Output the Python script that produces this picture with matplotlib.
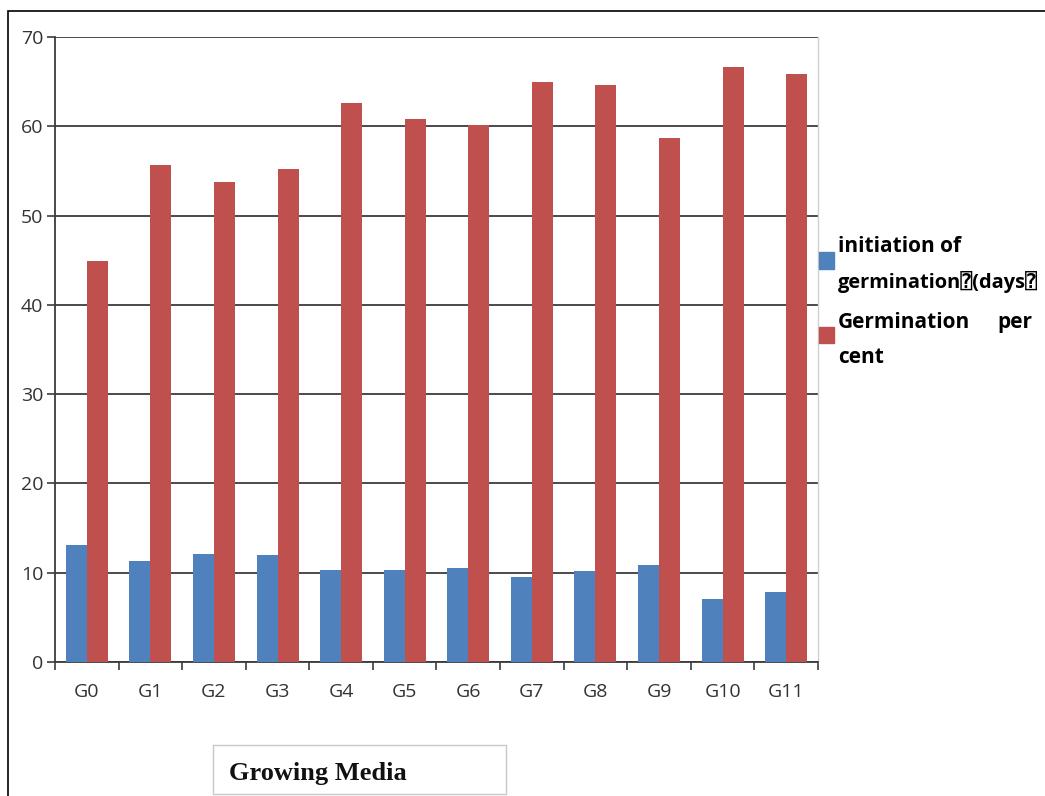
import matplotlib
matplotlib.use("Agg")
import matplotlib.pyplot as plt
from matplotlib.patches import Rectangle
import numpy as np

# ---- data ---------------------------------------------------------------
groups = ["G0", "G1", "G2", "G3", "G4", "G5", "G6", "G7", "G8", "G9", "G10", "G11"]
initiation_days = [13.1, 11.3, 12.1, 12.0, 10.3, 10.3, 10.5, 9.5, 10.2, 10.8, 7.0, 7.8]
germination_pct = [44.9, 55.7, 53.7, 55.2, 62.6, 60.8, 60.1, 65.0, 64.6, 58.7, 66.6, 65.8]
y_ticks = [0, 10, 20, 30, 40, 50, 60, 70]
series_labels = ["initiation of germination\u2370(days\u2370", "Germination per cent"]
series_colors = ["#4F81BD", "#C0504D"]
x_title = "Growing Media"

# ---- figure layout (pixel helpers) --------------------------------------
W, H = 1045, 796
fig = plt.figure(figsize=(W / 100, H / 100), dpi=100)
fig.patch.set_facecolor("white")


def fx(x):
    return x / W


def fy(y):
    return 1 - y / H


TICK_FONT = ["Open Sans", "DejaVu Sans"]
LEGEND_FONT = ["Open Sans", "DejaVu Sans", "DejaVu Sans Mono"]
AX_DARK = "#3c3c3c"

ax = fig.add_axes([fx(55), fy(661.8), (818 - 55) / W, (661.8 - 37) / H])

x = np.arange(len(groups))
bar_w = 0.33
ax.bar(x - bar_w / 2, initiation_days, width=bar_w, color=series_colors[0],
       label=series_labels[0], zorder=3)
ax.bar(x + bar_w / 2, germination_pct, width=bar_w, color=series_colors[1],
       label=series_labels[1], zorder=3)

ax.set_xlim(-0.5, len(groups) - 0.5)
ax.set_ylim(0, 70)
ax.set_yticks(y_ticks)
ax.set_yticklabels([str(v) for v in y_ticks], fontfamily=TICK_FONT,
                   fontsize=14, color="#333333")

# category labels at centres, tick marks on category boundaries
ax.set_xticks(x)
ax.set_xticklabels(groups, fontfamily=TICK_FONT, fontsize=14, color="#333333")
ax.set_xticks(np.arange(-0.5, len(groups)), minor=True)
ax.tick_params(axis="x", which="major", length=0, pad=15)
ax.tick_params(axis="x", which="minor", length=6, width=1.2, color=AX_DARK,
               direction="out")
ax.tick_params(axis="y", length=6, width=1.2, color=AX_DARK, pad=2.5,
               direction="out")

ax.set_axisbelow(True)
ax.yaxis.grid(True, color=AX_DARK, linewidth=1.3)
ax.xaxis.grid(False)

ax.spines["top"].set_visible(False)
ax.spines["right"].set_color("#D0D0D0")
ax.spines["right"].set_linewidth(1.0)
for s in ("left", "bottom"):
    ax.spines[s].set_color(AX_DARK)
    ax.spines[s].set_linewidth(1.3)

# ---- legend -------------------------------------------------------------
sq = 15
legend_x = 819
text_x = 838
# entry 1
fig.add_artist(Rectangle((fx(legend_x), fy(252 + 17)), sq / W, 17 / H,
                         transform=fig.transFigure, color=series_colors[0]))
words1 = series_labels[0].split(" ")
fig.text(fx(text_x), fy(252), " ".join(words1[:2]), fontfamily=LEGEND_FONT,
         fontweight="bold", fontsize=15, va="baseline", ha="left")
fig.text(fx(text_x), fy(288), " ".join(words1[2:]), fontfamily=LEGEND_FONT,
         fontweight="bold", fontsize=14.4, va="baseline", ha="left")
# entry 2 (justified first line)
fig.add_artist(Rectangle((fx(legend_x), fy(327 + 16)), sq / W, 16 / H,
                         transform=fig.transFigure, color=series_colors[1]))
words2 = series_labels[1].split(" ")
fig.text(fx(text_x), fy(328), words2[0], fontfamily=LEGEND_FONT,
         fontweight="bold", fontsize=15, va="baseline", ha="left")
fig.text(fx(1032), fy(328), words2[1], fontfamily=LEGEND_FONT,
         fontweight="bold", fontsize=15, va="baseline", ha="right")
fig.text(fx(text_x), fy(363), " ".join(words2[2:]), fontfamily=LEGEND_FONT,
         fontweight="bold", fontsize=15, va="baseline", ha="left")

# ---- axis title box -------------------------------------------------------
fig.add_artist(Rectangle((fx(213), fy(794)), (506 - 213) / W, (794 - 745) / H,
                         transform=fig.transFigure, facecolor="white",
                         edgecolor="#C8C8C8", linewidth=1.0))
fig.text(fx(229), fy(780), x_title, fontfamily=["Liberation Serif", "DejaVu Serif"],
         fontweight="bold", fontsize=19, va="baseline", ha="left", color="#111111")

# ---- outer frame ----------------------------------------------------------
fig.add_artist(Rectangle((fx(8), fy(900)), 1200 / W, (900 - 11) / H,
                         transform=fig.transFigure, fill=False,
                         edgecolor="black", linewidth=1.2, clip_on=False))

fig.savefig("out.png", dpi=100)
